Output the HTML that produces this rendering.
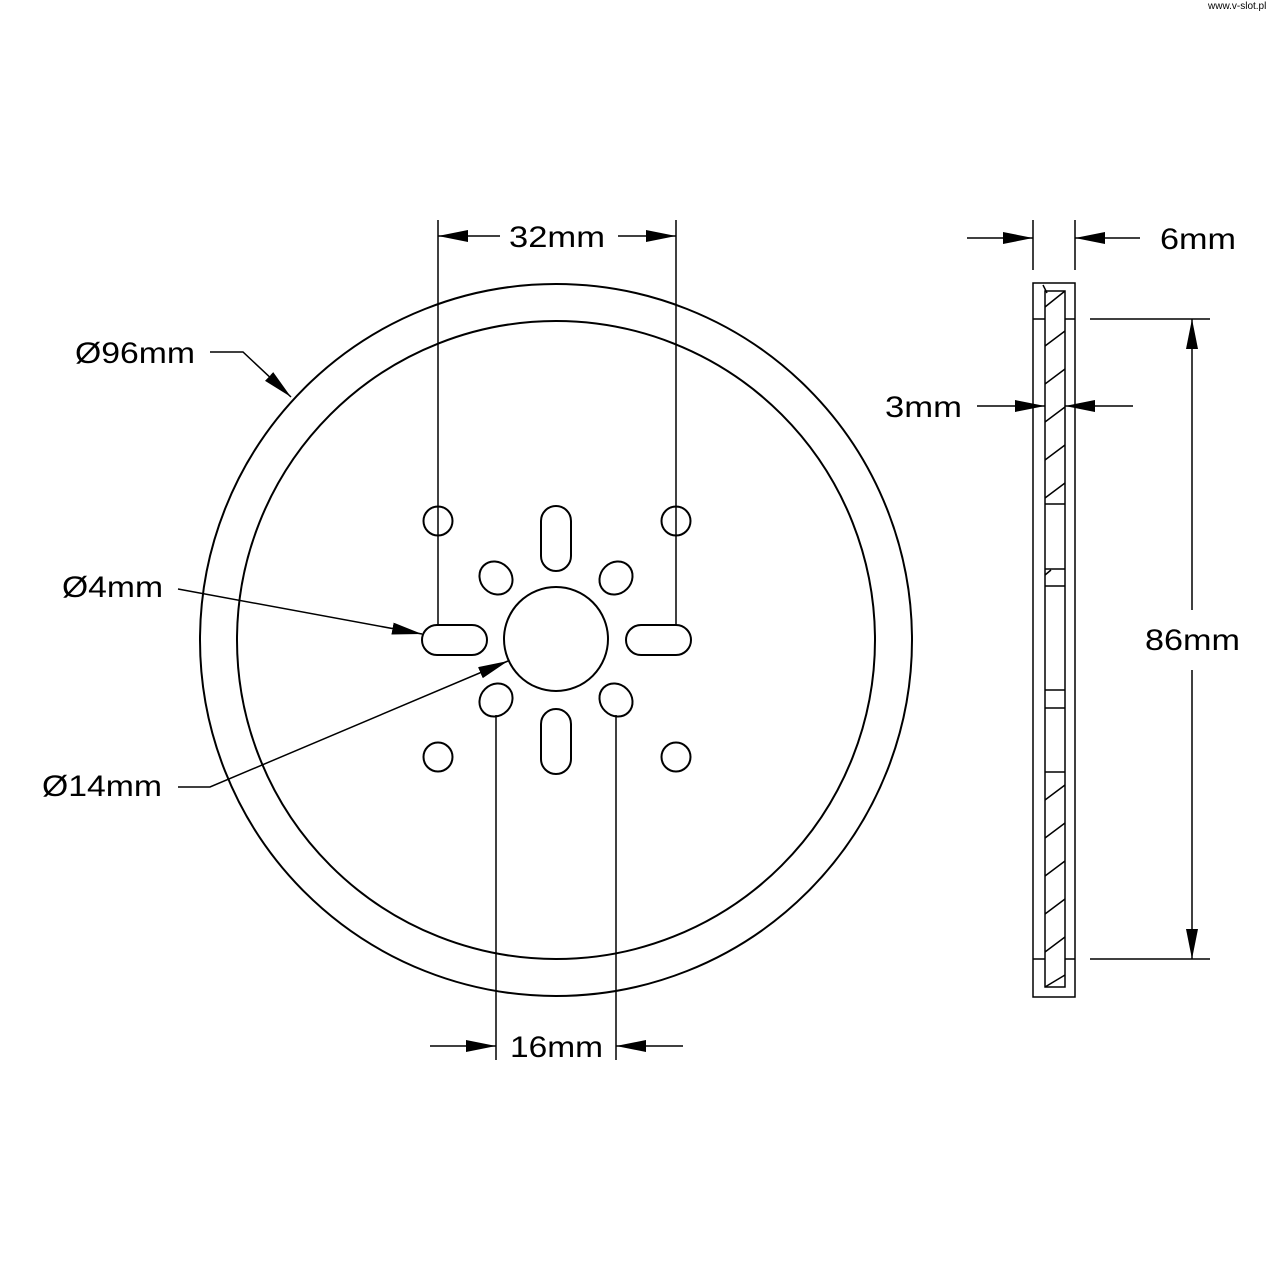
<!DOCTYPE html>
<html><head><style>body{margin:0;background:#fff}svg{display:block}text{font-family:"Liberation Sans","DejaVu Sans",sans-serif;font-size:30px;fill:#000}</style></head>
<body>
<svg width="1280" height="1280" viewBox="0 0 1280 1280" xmlns="http://www.w3.org/2000/svg">
<defs><marker id="a" markerWidth="30" markerHeight="12" refX="30" refY="6" orient="auto" markerUnits="userSpaceOnUse"><path d="M0,0 L30,6 L0,12z" fill="#000"/></marker></defs>
<text x="1208" y="9" style="font-size:10px">www.v-slot.pl</text>
<g fill="none" stroke="#000" stroke-width="2">
<circle cx="556" cy="640" r="356"/>
<circle cx="556" cy="640" r="319"/>
<circle cx="556" cy="639" r="52"/>
<circle cx="438" cy="521" r="14.5"/><circle cx="676" cy="521" r="14.5"/>
<circle cx="438" cy="757" r="14.5"/><circle cx="676" cy="757" r="14.5"/>
<rect x="422" y="625" width="65" height="30" rx="15"/>
<rect x="626" y="625" width="65" height="30" rx="15"/>
<rect x="541" y="506" width="30" height="65" rx="15"/>
<rect x="541" y="709" width="30" height="65" rx="15"/>
<ellipse cx="496" cy="578" rx="17.5" ry="15.5" transform="rotate(45 496 578)"/>
<ellipse cx="616" cy="578" rx="17.5" ry="15.5" transform="rotate(-45 616 578)"/>
<ellipse cx="496" cy="700" rx="17.5" ry="15.5" transform="rotate(-45 496 700)"/>
<ellipse cx="616" cy="700" rx="17.5" ry="15.5" transform="rotate(45 616 700)"/>
</g>
<g fill="none" stroke="#000" stroke-width="1.5">
<line x1="438" y1="220" x2="438" y2="626"/><line x1="676" y1="220" x2="676" y2="626"/>
<line x1="500" y1="236" x2="438" y2="236" marker-end="url(#a)"/>
<line x1="618" y1="236" x2="676" y2="236" marker-end="url(#a)"/>
<line x1="496" y1="715" x2="496" y2="1060"/><line x1="616" y1="715" x2="616" y2="1060"/>
<line x1="430" y1="1046" x2="496" y2="1046" marker-end="url(#a)"/>
<line x1="683" y1="1046" x2="616" y2="1046" marker-end="url(#a)"/>
<polyline points="210,352 243,352 291,397" marker-end="url(#a)"/>
<line x1="178" y1="589" x2="422" y2="634" marker-end="url(#a)"/>
<polyline points="178,787 210,787 508,661" marker-end="url(#a)"/>
<line x1="1033" y1="220" x2="1033" y2="270"/><line x1="1075" y1="220" x2="1075" y2="270"/>
<line x1="967" y1="238" x2="1033" y2="238" marker-end="url(#a)"/>
<line x1="1140" y1="238" x2="1075" y2="238" marker-end="url(#a)"/>
<line x1="977" y1="406" x2="1045" y2="406" marker-end="url(#a)"/>
<line x1="1133" y1="406" x2="1065" y2="406" marker-end="url(#a)"/>
<line x1="1090" y1="319" x2="1210" y2="319"/><line x1="1090" y1="959" x2="1210" y2="959"/>
<line x1="1192" y1="610" x2="1192" y2="319" marker-end="url(#a)"/>
<line x1="1192" y1="670" x2="1192" y2="959" marker-end="url(#a)"/>
<rect x="1033" y="283" width="42" height="714"/>
<rect x="1045" y="291" width="20" height="696"/>
<line x1="1033" y1="319" x2="1045" y2="319"/><line x1="1065" y1="319" x2="1075" y2="319"/>
<line x1="1033" y1="959" x2="1045" y2="959"/><line x1="1065" y1="959" x2="1075" y2="959"/>
<line x1="1045" y1="504" x2="1065" y2="504"/><line x1="1045" y1="569" x2="1065" y2="569"/>
<line x1="1045" y1="586" x2="1065" y2="586"/><line x1="1045" y1="690" x2="1065" y2="690"/>
<line x1="1045" y1="708" x2="1065" y2="708"/><line x1="1045" y1="772" x2="1065" y2="772"/>
<line x1="1045" y1="307" x2="1065" y2="291"/><line x1="1045" y1="346" x2="1065" y2="331"/>
<line x1="1045" y1="384" x2="1065" y2="369"/><line x1="1045" y1="422" x2="1065" y2="407"/>
<line x1="1045" y1="460" x2="1065" y2="445"/><line x1="1045" y1="498" x2="1065" y2="483"/>
<line x1="1045" y1="575" x2="1051" y2="570"/>
<line x1="1045" y1="800" x2="1065" y2="785"/><line x1="1045" y1="838" x2="1065" y2="823"/>
<line x1="1045" y1="876" x2="1065" y2="861"/><line x1="1045" y1="914" x2="1065" y2="899"/>
<line x1="1045" y1="952" x2="1065" y2="937"/><line x1="1045" y1="987" x2="1065" y2="975"/>
<line x1="1043" y1="285" x2="1047" y2="293"/>
</g>
<text x="509" y="247" textLength="96" lengthAdjust="spacingAndGlyphs">32mm</text>
<text x="1160" y="249" textLength="76" lengthAdjust="spacingAndGlyphs">6mm</text>
<text x="885" y="417" textLength="77" lengthAdjust="spacingAndGlyphs">3mm</text>
<text x="1145" y="650" textLength="95" lengthAdjust="spacingAndGlyphs">86mm</text>
<text x="510" y="1057" textLength="93" lengthAdjust="spacingAndGlyphs">16mm</text>
<text x="75" y="363" textLength="120" lengthAdjust="spacingAndGlyphs">Ø96mm</text>
<text x="62" y="597" textLength="101" lengthAdjust="spacingAndGlyphs">Ø4mm</text>
<text x="42" y="796" textLength="120" lengthAdjust="spacingAndGlyphs">Ø14mm</text>
</svg>
</body></html>
